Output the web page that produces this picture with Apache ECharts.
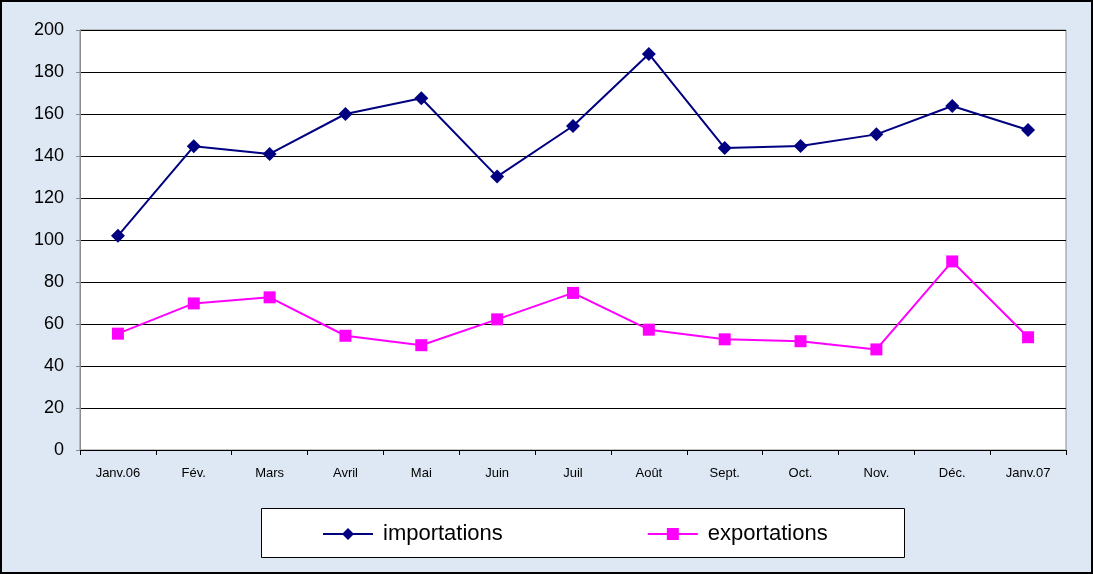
<!DOCTYPE html>
<html>
<head>
    <meta charset="utf-8">
    <title>importations / exportations</title>
    <script src="https://cdn.jsdelivr.net/npm/echarts@6/dist/echarts.min.js"></script>
    <style>
        html, body { margin: 0; padding: 0; }
        #main { width: 1093px; height: 574px; }
    </style>
</head>
<body>
    <div id="main"></div>
    <script type="text/javascript">
        // mois
        var months = ['Janv.06', 'Fév.', 'Mars', 'Avril', 'Mai', 'Juin', 'Juil', 'Août', 'Sept.', 'Oct.', 'Nov.', 'Déc.', 'Janv.07'];
        // valeurs
        var importations = [102, 144.6, 141, 160, 167.5, 130.2, 154.3, 188.6, 143.8, 144.8, 150.3, 163.8, 152.4];
        var exportations = [55.4, 69.8, 72.7, 54.4, 49.9, 62.2, 74.8, 57.3, 52.7, 51.8, 47.9, 89.8, 53.7];

        var font = 'Liberation Sans, Arial, sans-serif';

        var chart = echarts.init(document.getElementById('main'));
        chart.setOption({
            backgroundColor: '#dde8f4',
            animation: false,
            grid: {
                left: 80, top: 30, right: 27, bottom: 124,
                show: true,
                backgroundColor: '#ffffff',
                borderColor: '#8c8c8c',
                borderWidth: 1
            },
            graphic: [
                {
                    type: 'rect',
                    shape: { x: 1, y: 1, width: 1091, height: 572 },
                    style: { fill: 'none', stroke: '#000', lineWidth: 2 },
                    silent: true
                },
                {
                    type: 'rect',
                    shape: { x: 261.5, y: 508.5, width: 643, height: 49 },
                    style: { fill: '#fff', stroke: '#000', lineWidth: 1 },
                    silent: true,
                    z: -1
                }
            ],
            legend: {
                data: ['importations', 'exportations'],
                left: 317,
                top: 518,
                itemWidth: 50,
                itemHeight: 15,
                itemGap: 144,
                textStyle: { fontFamily: font, fontSize: 22, color: '#000', padding: [0, 0, 0, 5] }
            },
            xAxis: {
                type: 'category',
                data: months,
                axisLine: { lineStyle: { color: '#000', width: 1 } },
                axisTick: { show: true, length: 5, lineStyle: { color: '#000' } },
                axisLabel: { margin: 17, fontFamily: font, fontSize: 13, color: '#000' }
            },
            yAxis: {
                type: 'value',
                min: 0,
                max: 200,
                interval: 20,
                axisLine: { show: true, lineStyle: { color: '#8c8c8c' } },
                axisTick: { show: true, length: 4, lineStyle: { color: '#8c8c8c' } },
                axisLabel: { margin: 16, fontFamily: font, fontSize: 18, color: '#000' },
                splitLine: { show: true, lineStyle: { color: '#000', width: 1 } }
            },
            series: [
                {
                    name: 'importations',
                    type: 'line',
                    data: importations,
                    symbol: 'diamond',
                    symbolSize: 14,
                    itemStyle: { color: '#000080' },
                    lineStyle: { color: '#000080', width: 2 }
                },
                {
                    name: 'exportations',
                    type: 'line',
                    data: exportations,
                    symbol: 'rect',
                    symbolSize: 12,
                    itemStyle: { color: '#ff00ff' },
                    lineStyle: { color: '#ff00ff', width: 2 }
                }
            ]
        });
    </script>
</body>
</html>
